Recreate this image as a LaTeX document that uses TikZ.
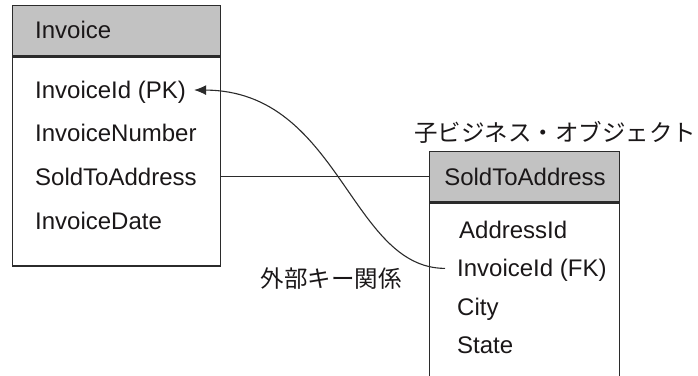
\documentclass[tikz,border=0pt]{standalone}
\usepackage{fontspec}
\setmainfont{Liberation Sans}
\newfontfamily\jafont{Noto Sans CJK JP}
\usetikzlibrary{positioning,arrows.meta}
\definecolor{ERInk}{HTML}{1A1718}
\definecolor{ERLine}{HTML}{2B2B2B}
\definecolor{ERHead}{HTML}{C2C2C2}

\tikzset{
  headbox/.style={draw=ERLine, fill=ERHead, line width=1.3pt, anchor=north west, inner sep=0pt},
  bodybox/.style={draw=ERLine, line width=1.3pt, anchor=north west, inner sep=0pt},
  field/.style={anchor=base west, inner sep=0pt, text height=16.6pt, text depth=0pt, text=ERInk, font=\fontsize{24}{28}\selectfont},
  note/.style={inner sep=0pt, text=ERInk, font=\jafont\fontsize{23.5}{27}\selectfont},
}

\begin{document}
\begin{tikzpicture}[x=1pt,y=-1pt]
  \useasboundingbox (0,0) rectangle (698,375);
  \clip (0,0) rectangle (698,375);

  \node[headbox, minimum width=208, minimum height=50] (invhead) at (12,5) {};
  \node[bodybox, minimum width=208, minimum height=209] (invbody) at (invhead.south west) {};
  \node[field] (invtitle) at (35,38.3) {Invoice};
  \node[field] (invpk) at (35,98.3) {InvoiceId (PK)};
  \node[field] (invnum) at (35,141.5) {InvoiceNumber};
  \node[field] (invsold) at (35,185) {SoldToAddress};
  \node[field] (invdate) at (35,229) {InvoiceDate};

  \node[headbox, minimum width=190, minimum height=50] (addrhead) at (429,151) {};
  \node[bodybox, minimum width=190, minimum height=220] (addrbody) at (addrhead.south west) {};
  \node[field, anchor=base] (addrtitle) at (525,185) {SoldToAddress};
  \node[field] (addrid) at (459,238.3) {AddressId};
  \node[field] (addrfk) at (457,276.7) {InvoiceId (FK)};
  \node[field] (addrcity) at (457,315) {City};
  \node[field] (addrstate) at (457,353.3) {State};

  \node[note] (childlbl) at (555,132) {子ビジネス・オブジェクト};
  \node[note] (fklbl) at (331,279) {外部キー関係};

  \draw[ERLine, line width=1.1pt] (invbody.east |- addrhead.west) -- (addrhead.west);
  \draw[ERLine, line width=1.1pt, {Latex[length=12pt,width=10pt]}-]
    ([xshift=8pt]invpk.east) .. controls (340,91) and (350,268) .. ([xshift=-12pt]addrfk.west);
\end{tikzpicture}
\end{document}
